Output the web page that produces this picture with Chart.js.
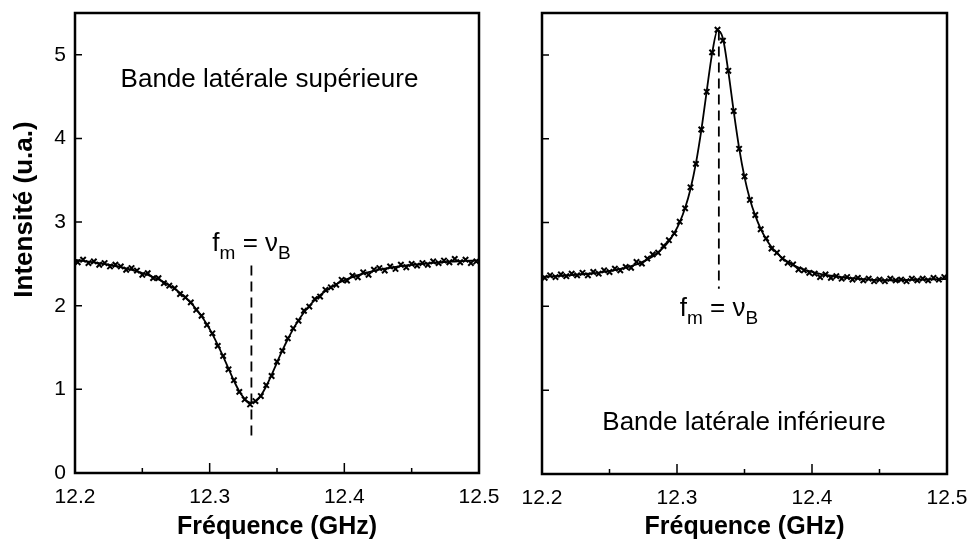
<!DOCTYPE html>
<html lang="fr">
<head>
<meta charset="UTF-8">
<title>Bandes latérales</title>
<script src="https://cdn.jsdelivr.net/npm/chart.js"></script>
<style>
  html, body { margin: 0; padding: 0; background: #fff; }
  .panel { position: absolute; top: 0; height: 544px; }
  #left { left: 0; width: 520px; }
  #right { left: 490px; width: 477px; }
</style>
</head>
<body>
<div class="panel" id="left"><canvas id="chartSup" width="520" height="544"></canvas></div>
<div class="panel" id="right"><canvas id="chartInf" width="477" height="544"></canvas></div>
<script>
// fréquences (GHz)
const freq = [12.198,12.202,12.206,12.21,12.214,12.218,12.222,12.226,12.23,12.234,12.238,12.242,12.246,12.25,12.254,12.258,12.262,12.266,12.27,12.274,12.278,12.282,12.286,12.29,12.294,12.298,12.302,12.306,12.31,12.314,12.318,12.322,12.326,12.33,12.334,12.338,12.342,12.346,12.35,12.354,12.358,12.362,12.366,12.37,12.374,12.378,12.382,12.386,12.39,12.394,12.398,12.402,12.406,12.41,12.414,12.418,12.422,12.426,12.43,12.434,12.438,12.442,12.446,12.45,12.454,12.458,12.462,12.466,12.47,12.474,12.478,12.482,12.486,12.49,12.494,12.498,12.502];

// bande latérale supérieure
const supData = [2.55,2.52,2.55,2.51,2.53,2.49,2.51,2.47,2.49,2.47,2.43,2.45,2.42,2.37,2.39,2.33,2.33,2.27,2.24,2.21,2.14,2.10,2.04,1.95,1.88,1.77,1.67,1.52,1.40,1.24,1.11,0.97,0.88,0.82,0.86,0.92,1.05,1.16,1.33,1.46,1.61,1.73,1.82,1.94,1.99,2.08,2.11,2.19,2.22,2.25,2.31,2.30,2.36,2.34,2.40,2.37,2.43,2.45,2.42,2.47,2.44,2.49,2.46,2.50,2.48,2.51,2.49,2.53,2.51,2.54,2.52,2.56,2.52,2.55,2.51,2.53,2.54];
const supFit = [2.549,2.544,2.536,2.528,2.519,2.509,2.498,2.487,2.474,2.461,2.446,2.430,2.411,2.391,2.368,2.343,2.314,2.282,2.245,2.202,2.153,2.097,2.034,1.960,1.874,1.775,1.661,1.533,1.394,1.247,1.103,0.977,0.885,0.842,0.856,0.925,1.037,1.174,1.321,1.465,1.599,1.720,1.826,1.919,1.998,2.067,2.125,2.176,2.219,2.257,2.290,2.318,2.343,2.365,2.385,2.402,2.417,2.431,2.443,2.454,2.464,2.473,2.481,2.488,2.495,2.501,2.507,2.512,2.517,2.521,2.525,2.529,2.532,2.536,2.539,2.541,2.544];

// bande latérale inférieure
const infData = [2.35,2.34,2.37,2.35,2.38,2.36,2.39,2.37,2.40,2.37,2.41,2.39,2.43,2.41,2.45,2.43,2.47,2.46,2.53,2.51,2.57,2.62,2.64,2.72,2.79,2.87,3.01,3.17,3.42,3.70,4.11,4.56,5.03,5.30,5.17,4.81,4.33,3.88,3.55,3.27,3.09,2.92,2.81,2.69,2.64,2.57,2.52,2.50,2.44,2.43,2.40,2.39,2.35,2.38,2.34,2.36,2.33,2.35,2.32,2.34,2.31,2.33,2.30,2.32,2.30,2.33,2.31,2.32,2.30,2.33,2.31,2.33,2.31,2.34,2.32,2.35,2.33];
const infFit = [2.352,2.355,2.358,2.361,2.365,2.368,2.373,2.377,2.383,2.389,2.395,2.403,2.412,2.422,2.433,2.446,2.462,2.480,2.501,2.527,2.558,2.596,2.643,2.703,2.778,2.875,3.003,3.173,3.401,3.705,4.099,4.566,5.016,5.290,5.200,4.803,4.327,3.891,3.542,3.279,3.082,2.925,2.804,2.708,2.636,2.579,2.531,2.492,2.463,2.440,2.420,2.403,2.389,2.377,2.366,2.357,2.349,2.342,2.336,2.330,2.325,2.321,2.316,2.313,2.311,2.311,2.312,2.313,2.315,2.317,2.318,2.319,2.321,2.322,2.323,2.325,2.326];

// fm = νB
const resonance = 12.331;
const supMarkY = [2.48, 0.42];
const infMarkY = [5.29, 2.21];

// graduations
const xMajor = [12.2, 12.3, 12.4, 12.5];
const xMinor = [12.25, 12.35, 12.45];
const yMajor = [0, 1, 2, 3, 4, 5];

const FONT = '"Liberation Sans", Arial, Helvetica, sans-serif';
Chart.defaults.font.family = FONT;
Chart.defaults.color = '#000';

const pts = (ys) => freq.map((f, i) => ({ x: f, y: ys[i] }));

// cadre + graduations vers l'intérieur
const framePlugin = {
  id: 'frame',
  afterDatasetsDraw(chart) {
    const { ctx, chartArea: a, scales: { x, y } } = chart;
    ctx.save();
    ctx.strokeStyle = '#000';
    ctx.lineWidth = 1.5;
    ctx.beginPath();
    xMajor.forEach(v => {
      const px = x.getPixelForValue(v);
      ctx.moveTo(px, a.bottom); ctx.lineTo(px, a.bottom - 10);
    });
    xMinor.forEach(v => {
      const px = x.getPixelForValue(v);
      ctx.moveTo(px, a.bottom); ctx.lineTo(px, a.bottom - 5);
    });
    yMajor.forEach(v => {
      const py = y.getPixelForValue(v);
      ctx.moveTo(a.left, py); ctx.lineTo(a.left + 7, py);
    });
    ctx.stroke();
    ctx.lineWidth = 2.5;
    ctx.strokeRect(a.left, a.top, a.right - a.left, a.bottom - a.top);
    ctx.restore();
  }
};

// textes dans le graphique
const notesPlugin = {
  id: 'notes',
  afterDraw(chart, args, opts) {
    const { ctx, scales: { x, y } } = chart;
    ctx.save();
    ctx.fillStyle = '#000';
    ctx.textBaseline = 'middle';
    ctx.textAlign = 'center';
    ctx.font = '26px ' + FONT;
    ctx.fillText(opts.band.text, x.getPixelForValue(opts.band.x), y.getPixelForValue(opts.band.y));

    // f_m = ν_B
    let px = x.getPixelForValue(opts.fm.x);
    const py = y.getPixelForValue(opts.fm.y);
    ctx.textAlign = 'left';
    ctx.textBaseline = 'alphabetic';
    const parts = [['f', 26, 0], ['m', 19, 8], [' = ', 26, 0], ['\u03BD', 26, 0], ['B', 19, 8]];
    parts.forEach(([t, size, dy]) => {
      ctx.font = size + 'px ' + FONT;
      ctx.fillText(t, px, py + dy);
      px += ctx.measureText(t).width;
    });

    if (opts.yTitle) {
      ctx.font = 'bold 26px ' + FONT;
      ctx.textAlign = 'center';
      ctx.textBaseline = 'middle';
      ctx.translate(25, y.getPixelForValue(opts.yTitle.y));
      ctx.rotate(-Math.PI / 2);
      ctx.fillText(opts.yTitle.text, 0, 0);
    }
    ctx.restore();
  }
};

function makeChart(id, data, fit, markY, cfg) {
  return new Chart(document.getElementById(id), {
    type: 'scatter',
    data: {
      datasets: [
        {
          data: pts(fit), showLine: true, pointRadius: 0,
          borderColor: '#000', borderWidth: 1.8, cubicInterpolationMode: 'monotone', clip: 0
        },
        {
          data: pts(data), pointStyle: 'crossRot', pointRadius: 3.8,
          borderColor: '#000', backgroundColor: '#000', pointBorderWidth: 2, clip: 0
        },
        {
          data: [{ x: resonance, y: markY[0] }, { x: resonance, y: markY[1] }],
          showLine: true, pointRadius: 0, borderColor: '#000', borderWidth: 1.8, borderDash: [10, 6]
        }
      ]
    },
    options: {
      responsive: false,
      animation: false,
      devicePixelRatio: 1,
      layout: { padding: { top: 13, right: cfg.padRight, left: 0, bottom: 0 } },
      plugins: {
        legend: { display: false },
        tooltip: { enabled: false },
        notes: cfg.notes
      },
      scales: {
        x: {
          type: 'linear', min: 12.2, max: 12.5,
          grid: { display: false, drawTicks: false },
          border: { display: false },
          afterFit: s => { s.height = cfg.xHeight; s.paddingLeft = 0; s.paddingRight = 0; },
          afterBuildTicks: s => { s.ticks = xMajor.map(v => ({ value: v })); },
          ticks: { padding: 12, font: { size: 21 }, maxRotation: 0, callback: v => v.toFixed(1) },
          title: { display: true, text: 'Fréquence (GHz)', font: { size: 25, weight: 'bold' }, padding: { top: 0, bottom: 2 } }
        },
        y: {
          type: 'linear', min: 0, max: 5.5,
          grid: { display: false, drawTicks: false },
          border: { display: false },
          afterFit: s => { s.width = cfg.yWidth; s.paddingTop = 0; s.paddingBottom = 0; },
          afterBuildTicks: s => { s.ticks = yMajor.map(v => ({ value: v })); },
          ticks: { display: cfg.yLabels, padding: 9, font: { size: 21 } }
        }
      }
    },
    plugins: [framePlugin, notesPlugin]
  });
}

makeChart('chartSup', supData, supFit, supMarkY, {
  padRight: 41, xHeight: 71, yWidth: 75, yLabels: true,
  notes: {
    band: { text: 'Bande latérale supérieure', x: 12.3444, y: 4.70 },
    fm: { x: 12.302, y: 2.65 },
    yTitle: { text: 'Intensité (u.a.)', y: 3.15 }
  }
});

makeChart('chartInf', infData, infFit, infMarkY, {
  padRight: 20, xHeight: 70, yWidth: 52, yLabels: false,
  notes: {
    band: { text: 'Bande latérale inférieure', x: 12.3496, y: 0.61 },
    fm: { x: 12.302, y: 1.89 }
  }
});
</script>
</body>
</html>
